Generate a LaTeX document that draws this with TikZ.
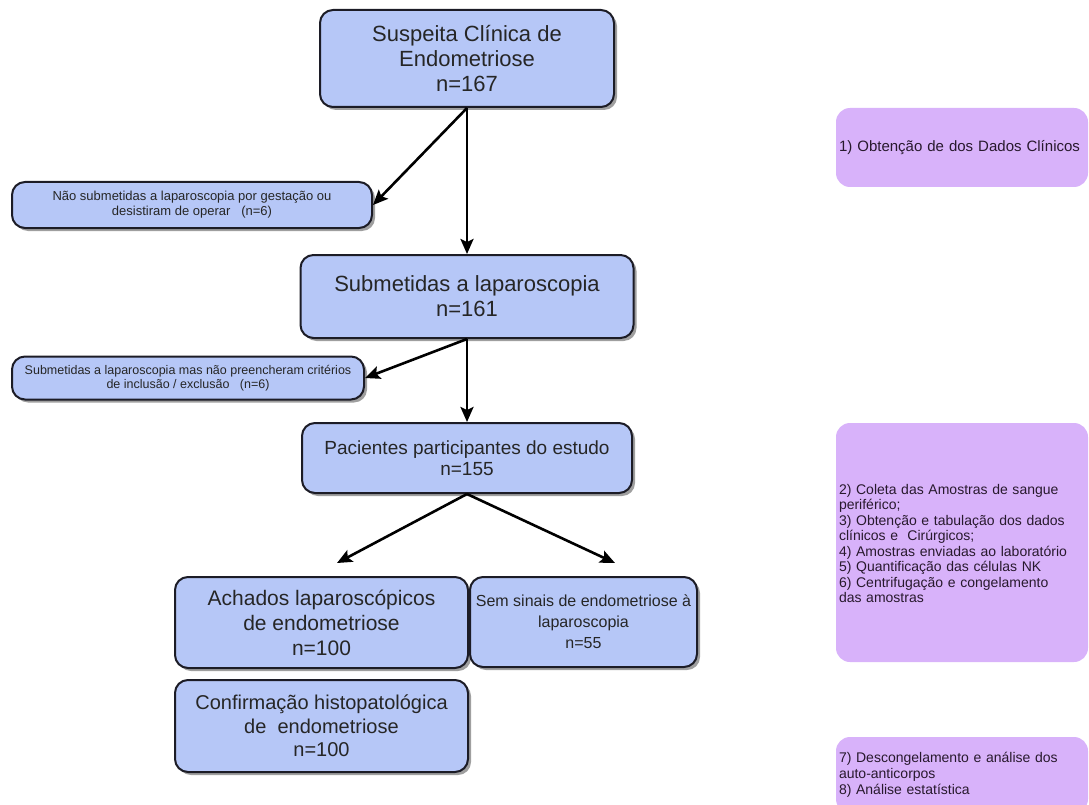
\documentclass[tikz,border=0pt]{standalone}
\usepackage{fontspec}
\setmainfont{Liberation Sans}
\usetikzlibrary{arrows.meta,positioning,shadows}
\definecolor{boxblue}{RGB}{182,199,247}
\definecolor{boxedge}{RGB}{28,28,38}
\definecolor{notepurple}{RGB}{216,178,250}
\definecolor{notetext}{RGB}{40,25,45}
\newcommand{\fsz}[2]{\fontsize{#1}{#2}\selectfont}

\begin{document}
\begin{tikzpicture}[x=1pt, y=-1pt, >={Stealth[length=15pt,width=13pt,inset=3pt]},
    flowbox/.style={draw=boxedge, line width=2pt, fill=boxblue, rounded corners=13pt,
        align=center, text=black!85, inner sep=2pt,
        drop shadow={shadow xshift=3pt, shadow yshift=-3pt, fill=black!75}},
    notebox/.style={fill=notepurple, rounded corners=14pt, text=notetext,
        text width=246pt, inner xsep=3pt, inner ysep=0pt, align=left},
    flowarrow/.style={->, line width=2.6pt}]
    \useasboundingbox (0,0) rectangle (1089,805);
    \clip (0,0) rectangle (1089,805);

    % Main flow
    \node[flowbox, minimum width=294pt, minimum height=97pt, font=\fsz{22}{25}] (susp) at (467,58.5)
        {Suspeita Clínica de\\Endometriose\\n=167};
    \node[flowbox, minimum width=333pt, minimum height=83pt, font=\fsz{22}{25}] (subm) at (467,296.5)
        {Submetidas a laparoscopia\\n=161};
    \node[flowbox, minimum width=330pt, minimum height=70pt, font=\fsz{19}{21}] (pac) at (467,458)
        {Pacientes participantes do estudo\\n=155};

    % Exclusions
    \node[flowbox, minimum width=360pt, minimum height=46pt, font=\fsz{13}{15}] (nao) at (192,205)
        {Não submetidas a laparoscopia por gestação ou\\desistiram de operar \ \ (n=6)};
    \node[flowbox, minimum width=352pt, minimum height=43pt, font=\fsz{12.5}{14.5}] (crit) at (188,378)
        {Submetidas a laparoscopia mas não preencheram critérios\\de inclusão / exclusão \ \ (n=6)};

    % Laparoscopic findings
    \node[flowbox, minimum width=293pt, minimum height=91pt, font=\fsz{21}{25}] (ach) at (321.5,622.5)
        {Achados laparoscópicos\\de endometriose\\n=100};
    \node[flowbox, minimum width=227pt, minimum height=90pt, font=\fsz{16}{21}] (sem) at (583.5,622)
        {Sem sinais de endometriose à\\laparoscopia\\n=55};
    \node[flowbox, minimum width=293pt, minimum height=92pt, font=\fsz{20}{23.5}] (conf) at (321.5,726)
        {Confirmação histopatológica\\de \ endometriose\\n=100};

    % Study steps
    \node[notebox, minimum height=79pt, font=\fsz{15}{17}] (stepa) at (962,147.5)
        {1) Obtenção de dos Dados Clínicos};
    \node[notebox, minimum height=239pt, font=\fsz{14}{15.5}] (stepb) at (962,542.5)
        {\rule{0pt}{0pt}\\[-3pt]2) Coleta das Amostras de sangue\\periférico;\\3) Obtenção e tabulação dos dados\\clínicos e \ Cirúrgicos;\\4) Amostras enviadas ao laboratório\\5) Quantificação das células NK\\6) Centrifugação e congelamento\\das amostras};
    \node[notebox, minimum height=76pt, font=\fsz{14}{16}] (stepc) at (962,775)
        {7) Descongelamento e análise dos\\auto-anticorpos\\8) Análise estatística};

    % Arrows
    \coordinate (achtip) at (337,563);
    \coordinate (semtip) at (615,563);
    \draw[flowarrow] (susp.south) -- (subm.north);
    \draw[flowarrow] (susp.south) -- (nao.east);
    \draw[flowarrow] (subm.south) -- (pac.north);
    \draw[flowarrow] (subm.south) -- (crit.east);
    \draw[flowarrow] (pac.south) -- (achtip);
    \draw[flowarrow] (pac.south) -- (semtip);
\end{tikzpicture}
\end{document}
